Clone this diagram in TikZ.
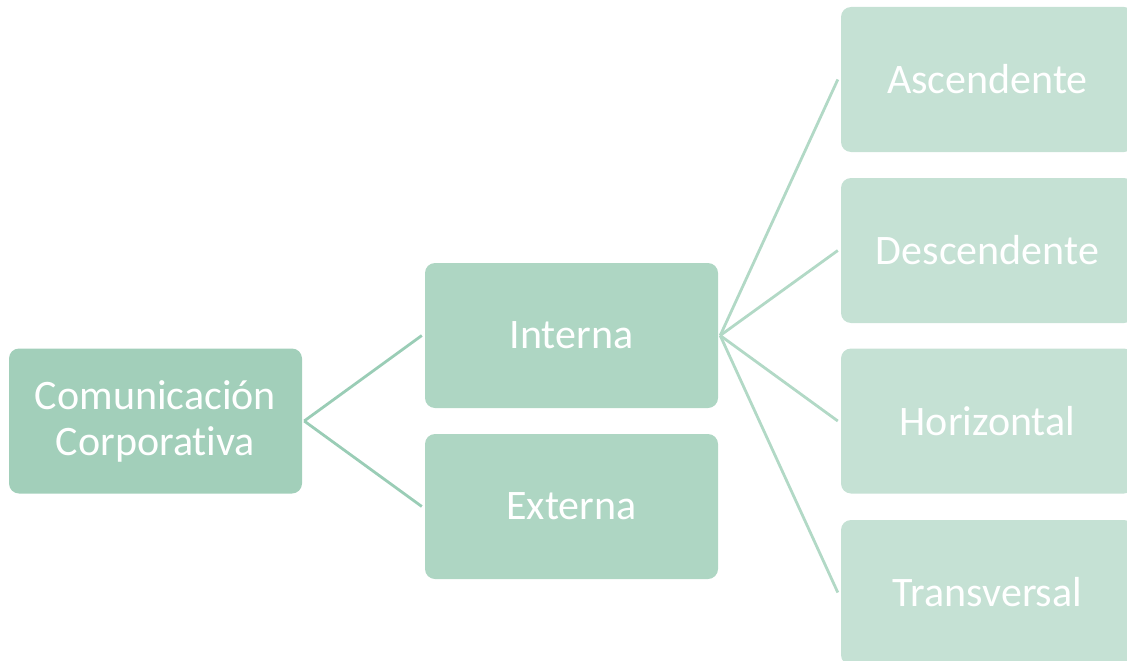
\documentclass[tikz,border=0pt]{standalone}
\usepackage{fontspec}
\setmainfont[Ligatures=NoCommon]{Carlito}
\definecolor{rootfill}{HTML}{A2CFBA}
\definecolor{midfill}{HTML}{AED6C3}
\definecolor{leaffill}{HTML}{C5E1D4}
\definecolor{lineA}{HTML}{9ACDB6}
\definecolor{lineB}{HTML}{B2D9C6}
\tikzset{
  box/.style={rounded corners=10pt, minimum width=293pt, minimum height=145pt, inner sep=0pt,
    text=white, font=\fontsize{42}{46}\selectfont, align=center, draw=none},
  rootbox/.style={box, fill=rootfill},
  midbox/.style={box, fill=midfill},
  leafbox/.style={box, fill=leaffill},
  linkA/.style={draw=lineA, line width=2.8pt},
  linkB/.style={draw=lineB, line width=2.8pt}
}
\begin{document}
\begin{tikzpicture}[x=1pt,y=-1pt]
\useasboundingbox (0,0) rectangle (1127,661);
\begin{scope}
\clip (0,0) rectangle (1127,661);
\node[rootbox] (root) at (155.5,421) {Comunicación\\Corporativa};
\node[midbox] (int) at (571.5,335.5) {Interna};
\node[midbox] (ext) at (571.5,506.5) {Externa};
\node[leafbox] (asc) at (987.5,79.5) {Ascendente};
\node[leafbox] (des) at (987.5,250.5) {Descendente};
\node[leafbox] (hor) at (987.5,421) {Horizontal};
\node[leafbox] (tra) at (987.5,592.5) {Transversal};
\draw[linkA] ([xshift=2pt]root.east) -- ([xshift=-3pt]int.west);
\draw[linkA] ([xshift=2pt]root.east) -- ([xshift=-3pt]ext.west);
\draw[linkB] ([xshift=2pt]int.east) -- ([xshift=-3pt]asc.west);
\draw[linkB] ([xshift=2pt]int.east) -- ([xshift=-3pt]des.west);
\draw[linkB] ([xshift=2pt]int.east) -- ([xshift=-3pt]hor.west);
\draw[linkB] ([xshift=2pt]int.east) -- ([xshift=-3pt]tra.west);
\end{scope}
\end{tikzpicture}
\end{document}
